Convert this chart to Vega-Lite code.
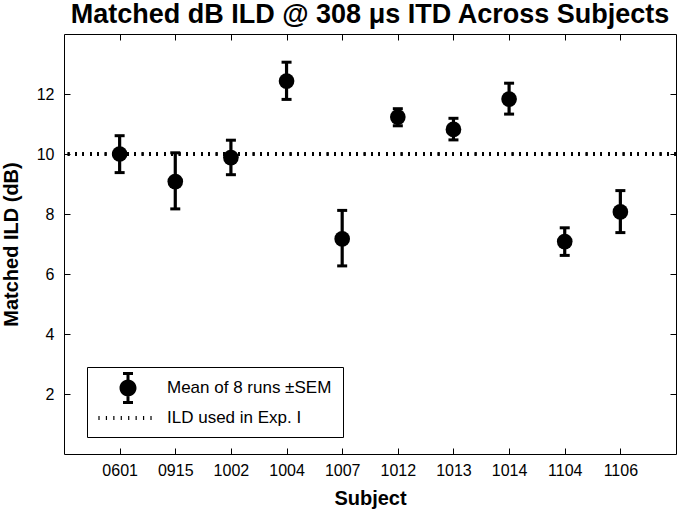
{
  "$schema": "https://vega.github.io/schema/vega-lite/v6.json",
  "width": 612,
  "height": 420,
  "autosize": "none",
  "padding": {"left": 64, "top": 34, "right": 1, "bottom": 59},
  "background": "white",
  "config": {
    "font": "Liberation Sans",
    "view": {"stroke": "black", "strokeWidth": 1},
    "axis": {"grid": false, "domain": false, "tickColor": "black", "tickWidth": 1, "labelColor": "black", "titleColor": "black", "labelFontSize": 16}
  },
  "title": {"text": "Matched dB ILD @ 308 μs ITD Across Subjects", "fontSize": 27, "fontWeight": "bold", "font": "Liberation Sans", "color": "black", "offset": 5},
  "data": {
    "values": [
      {"subject": "0601", "mean": 10.0, "lo": 9.38, "hi": 10.61},
      {"subject": "0915", "mean": 9.08, "lo": 8.17, "hi": 10.04},
      {"subject": "1002", "mean": 9.88, "lo": 9.31, "hi": 10.46},
      {"subject": "1004", "mean": 12.43, "lo": 11.82, "hi": 13.06},
      {"subject": "1007", "mean": 7.17, "lo": 6.27, "hi": 8.12},
      {"subject": "1012", "mean": 11.23, "lo": 10.94, "hi": 11.51},
      {"subject": "1013", "mean": 10.82, "lo": 10.47, "hi": 11.19},
      {"subject": "1014", "mean": 11.83, "lo": 11.33, "hi": 12.36},
      {"subject": "1104", "mean": 7.08, "lo": 6.62, "hi": 7.54},
      {"subject": "1106", "mean": 8.07, "lo": 7.38, "hi": 8.78}
    ]
  },
  "layer": [
    {
      "mark": {"type": "rule", "color": "black", "strokeWidth": 3.5, "strokeDash": [1.3, 6.1], "strokeCap": "butt"},
      "encoding": {
        "y": {"datum": 10, "type": "quantitative", "scale": {"domain": [0, 14], "nice": false}, "axis": null}
      }
    },
    {
      "mark": {"type": "rule", "color": "black", "strokeWidth": 3.2},
      "encoding": {
        "x": {"field": "subject", "type": "ordinal", "scale": {"type": "point", "padding": 1}, "axis": null},
        "y": {"field": "lo", "type": "quantitative", "scale": {"domain": [0, 14], "nice": false}, "axis": null},
        "y2": {"field": "hi"}
      }
    },
    {
      "mark": {"type": "tick", "color": "black", "thickness": 3, "size": 10, "opacity": 1},
      "encoding": {
        "x": {"field": "subject", "type": "ordinal", "scale": {"type": "point", "padding": 1}, "axis": null},
        "y": {"field": "lo", "type": "quantitative", "scale": {"domain": [0, 14], "nice": false}, "axis": null}
      }
    },
    {
      "mark": {"type": "tick", "color": "black", "thickness": 3, "size": 10, "opacity": 1},
      "encoding": {
        "x": {"field": "subject", "type": "ordinal", "scale": {"type": "point", "padding": 1}, "axis": null},
        "y": {"field": "hi", "type": "quantitative", "scale": {"domain": [0, 14], "nice": false}, "axis": null}
      }
    },
    {
      "mark": {"type": "point", "filled": true, "color": "black", "size": 245, "opacity": 1},
      "encoding": {
        "x": {"field": "subject", "type": "ordinal", "scale": {"type": "point", "padding": 1},
          "axis": {"title": "Subject", "titleFontSize": 20, "titleFontWeight": "bold", "titlePadding": 10, "labelFontSize": 16, "labelAngle": 0, "tickSize": -6, "labelPadding": 14}},
        "y": {"field": "mean", "type": "quantitative", "scale": {"domain": [0, 14], "nice": false},
          "axis": {"title": "Matched ILD (dB)", "values": [2, 4, 6, 8, 10, 12], "titleFontSize": 20, "titleFontWeight": "bold", "titlePadding": 15, "labelFontSize": 16, "tickSize": -6, "labelPadding": 16}}
      }
    },
    {
      "mark": {"type": "point", "filled": true, "color": "black", "size": 400, "opacity": 0},
      "encoding": {
        "x": {"field": "subject", "type": "ordinal", "scale": {"type": "point", "padding": 1},
          "axis": {"orient": "top", "title": null, "labels": false, "tickSize": -6}},
        "y": {"field": "mean", "type": "quantitative", "scale": {"domain": [0, 14], "nice": false},
          "axis": {"orient": "right", "title": null, "labels": false, "tickSize": -6, "values": [2, 4, 6, 8, 10, 12]}},
        "shape": {
          "datum": "Mean of 8 runs ±SEM",
          "scale": {
            "domain": ["Mean of 8 runs ±SEM", "ILD used in Exp. I"],
            "range": [
              "M2.85,0A0.85,0.85,0,1,1,1.15,0A0.85,0.85,0,1,1,2.85,0ZM1.85,-1.6h0.3v3.2h-0.3ZM1.5,-1.6h1v0.3h-1ZM1.5,1.3h1v0.3h-1Z",
              "M-0.96,-0.2h0.12v0.4h-0.12ZM-0.217,-0.2h0.12v0.4h-0.12ZM0.526,-0.2h0.12v0.4h-0.12ZM1.269,-0.2h0.12v0.4h-0.12ZM2.012,-0.2h0.12v0.4h-0.12ZM2.755,-0.2h0.12v0.4h-0.12ZM3.498,-0.2h0.12v0.4h-0.12ZM4.241,-0.2h0.12v0.4h-0.12Z"
            ]
          },
          "legend": {
            "orient": "none", "legendX": 23, "legendY": 333, "title": null,
            "strokeColor": "black", "fillColor": "white", "padding": 11,
            "symbolSize": 400, "symbolStrokeWidth": 0, "symbolFillColor": "black", "symbolOpacity": 1,
            "labelFontSize": 17, "labelFont": "Liberation Sans", "labelColor": "black", "labelOffset": 49, "labelLimit": 300,
            "rowPadding": 4
          }
        }
      }
    }
  ],
  "resolve": {"axis": {"x": "independent", "y": "independent"}}
}
